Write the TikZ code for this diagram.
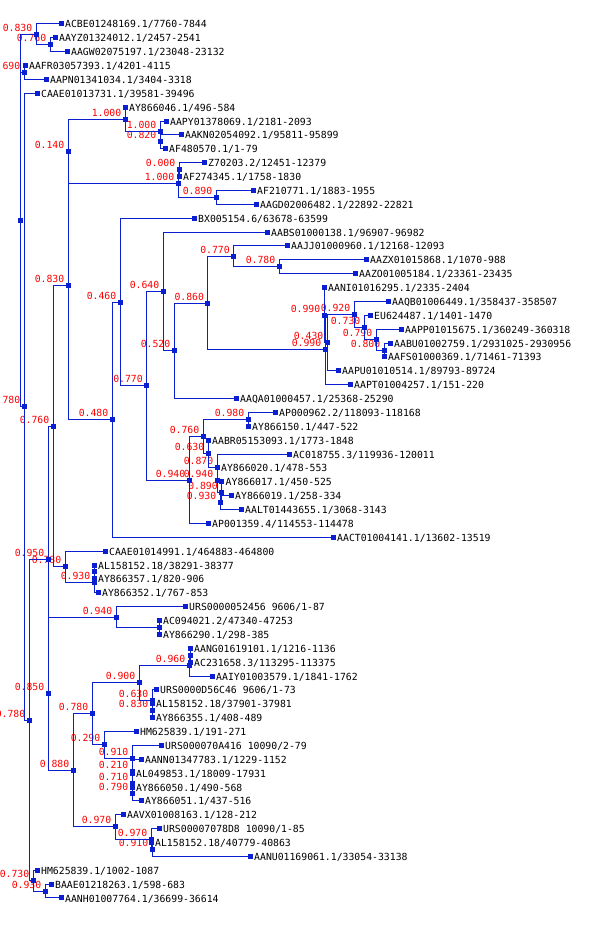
\documentclass[tikz,border=0pt]{standalone}
\usepackage{fontspec}
\newfontfamily\treefont{DejaVu Sans Mono}
\definecolor{treeblue}{RGB}{10,30,210}
\definecolor{labred}{RGB}{255,0,0}
\tikzset{
 sq/.style={rectangle,fill=treeblue,draw=none,minimum size=5pt,inner sep=0pt,outer sep=0pt},
 edge/.style={draw=treeblue,line width=1pt},
 leaftxt/.style={anchor=base west,inner sep=0pt,font={\treefont\fontsize{9.8pt}{10pt}\selectfont},text=black},
 lab/.style={anchor=base east,inner sep=0pt,font={\treefont\fontsize{9.8pt}{10pt}\selectfont},text=labred}
}
\newcommand\leafnode[4]{\coordinate (#1) at (#2,#3);\node[leaftxt] (#1t) at ([xshift=4pt,yshift=-4pt]#1) {#4};}
\newcommand\blab[2]{\node[lab] (#1lab) at ([xshift=-3.5pt,yshift=3pt]#1) {#2};}
\begin{document}
\begin{tikzpicture}[x=1pt,y=-13.873pt]
\useasboundingbox (0,-0.73) rectangle (600,66.74);
% internal nodes
\coordinate (A) at (20.7,15.17);
\coordinate (N1) at (36,1.75);
\coordinate (N2) at (50,2.5);
\coordinate (N690) at (24,4.5);
\coordinate (B) at (24,28.6);
\coordinate (C) at (29,51.19);
\coordinate (D) at (48,39.63);
\coordinate (E) at (33,62.75);
\coordinate (E2) at (45,63.5);
\coordinate (F) at (53,29.99);
\coordinate (G) at (68,19.85);
\coordinate (P140) at (68,10.19);
\coordinate (L) at (125,7.875);
\coordinate (L2) at (160,8.75);
\coordinate (L3) at (160,9.5);
\coordinate (M) at (178,12.5);
\coordinate (M1) at (179,11.5);
\coordinate (M2) at (216,13.5);
\coordinate (Q480) at (112,29.52);
\coordinate (R460) at (120,21.04);
\coordinate (S770) at (146.5,27.07);
\coordinate (T640) at (163,20.28);
\coordinate (V520) at (174,24.56);
\coordinate (W860) at (207.7,21.12);
\coordinate (X770) at (233.5,17.75);
\coordinate (X780) at (279,18.5);
\coordinate (Y) at (325,24.49);
\coordinate (Z5) at (324,21.98);
\coordinate (Z6) at (327,23.97);
\coordinate (Z4) at (354,21.94);
\coordinate (Z3) at (364,22.875);
\coordinate (Z2) at (376,23.75);
\coordinate (Z1) at (384,24.5);
\coordinate (U940) at (189,33.87);
\coordinate (U2) at (203,30.73);
\coordinate (U1) at (248,29.5);
\coordinate (U3) at (208,31.97);
\coordinate (U5) at (217,32.94);
\coordinate (U6) at (217,33.875);
\coordinate (U7) at (221.5,34.75);
\coordinate (U8) at (220,35.5);
\coordinate (H) at (65,40.125);
\coordinate (H2) at (94,41.25);
\coordinate (H3) at (94,40.5);
\coordinate (I) at (48,49.28);
\coordinate (J) at (116,43.75);
\coordinate (J2) at (159,44.5);
\coordinate (K) at (73,54.8);
\coordinate (K1) at (92,50.73);
\coordinate (K11) at (139,48.5);
\coordinate (Kx) at (189,47.25);
\coordinate (Kx1) at (190,46.5);
\coordinate (Ky) at (152,49.75);
\coordinate (Kz) at (152,50.5);
\coordinate (K12) at (104,52.97);
\coordinate (K13) at (132,53.94);
\coordinate (K14) at (132,54.875);
\coordinate (K15) at (132,55.75);
\coordinate (K16) at (132,56.5);
\coordinate (K2) at (115,58.875);
\coordinate (K21) at (151,59.75);
\coordinate (K22) at (152,60.5);
% leaves
\leafnode{l1}{61}{1}{ACBE01248169.1/7760-7844}
\leafnode{l2}{55}{2}{AAYZ01324012.1/2457-2541}
\leafnode{l3}{67}{3}{AAGW02075197.1/23048-23132}
\leafnode{l4}{25}{4}{AAFR03057393.1/4201-4115}
\leafnode{l5}{46}{5}{AAPN01341034.1/3404-3318}
\leafnode{l6}{37}{6}{CAAE01013731.1/39581-39496}
\leafnode{l7}{125}{7}{AY866046.1/496-584}
\leafnode{l8}{166}{8}{AAPY01378069.1/2181-2093}
\leafnode{l9}{181}{9}{AAKN02054092.1/95811-95899}
\leafnode{l10}{165}{10}{AF480570.1/1-79}
\leafnode{l11}{204}{11}{Z70203.2/12451-12379}
\leafnode{l12}{179}{12}{AF274345.1/1758-1830}
\leafnode{l13}{253}{13}{AF210771.1/1883-1955}
\leafnode{l14}{256}{14}{AAGD02006482.1/22892-22821}
\leafnode{l15}{194}{15}{BX005154.6/63678-63599}
\leafnode{l16}{267}{16}{AABS01000138.1/96907-96982}
\leafnode{l17}{287}{17}{AAJJ01000960.1/12168-12093}
\leafnode{l18}{366}{18}{AAZX01015868.1/1070-988}
\leafnode{l19}{355}{19}{AAZO01005184.1/23361-23435}
\leafnode{l20}{324}{20}{AANI01016295.1/2335-2404}
\leafnode{l21}{388}{21}{AAQB01006449.1/358437-358507}
\leafnode{l22}{370}{22}{EU624487.1/1401-1470}
\leafnode{l23}{401}{23}{AAPP01015675.1/360249-360318}
\leafnode{l24}{390}{24}{AABU01002759.1/2931025-2930956}
\leafnode{l25}{384}{25}{AAFS01000369.1/71461-71393}
\leafnode{l26}{338}{26}{AAPU01010514.1/89793-89724}
\leafnode{l27}{350}{27}{AAPT01004257.1/151-220}
\leafnode{l28}{236}{28}{AAQA01000457.1/25368-25290}
\leafnode{l29}{275}{29}{AP000962.2/118093-118168}
\leafnode{l30}{248}{30}{AY866150.1/447-522}
\leafnode{l31}{208}{31}{AABR05153093.1/1773-1848}
\leafnode{l32}{289}{32}{AC018755.3/119936-120011}
\leafnode{l33}{217}{33}{AY866020.1/478-553}
\leafnode{l34}{221.5}{34}{AY866017.1/450-525}
\leafnode{l35}{231}{35}{AY866019.1/258-334}
\leafnode{l36}{241}{36}{AALT01443655.1/3068-3143}
\leafnode{l37}{208}{37}{AP001359.4/114553-114478}
\leafnode{l38}{333}{38}{AACT01004141.1/13602-13519}
\leafnode{l39}{105}{39}{CAAE01014991.1/464883-464800}
\leafnode{l40}{94}{40}{AL158152.18/38291-38377}
\leafnode{l41}{94}{41}{AY866357.1/820-906}
\leafnode{l42}{98}{42}{AY866352.1/767-853}
\leafnode{l43}{185}{43}{URS0000052456 9606/1-87}
\leafnode{l44}{159}{44}{AC094021.2/47340-47253}
\leafnode{l45}{159}{45}{AY866290.1/298-385}
\leafnode{l46}{190}{46}{AANG01619101.1/1216-1136}
\leafnode{l47}{190}{47}{AC231658.3/113295-113375}
\leafnode{l48}{212}{48}{AAIY01003579.1/1841-1762}
\leafnode{l49}{156}{49}{URS0000D56C46 9606/1-73}
\leafnode{l50}{152}{50}{AL158152.18/37901-37981}
\leafnode{l51}{152}{51}{AY866355.1/408-489}
\leafnode{l52}{136}{52}{HM625839.1/191-271}
\leafnode{l53}{161}{53}{URS000070A416 10090/2-79}
\leafnode{l54}{141}{54}{AANN01347783.1/1229-1152}
\leafnode{l55}{132}{55}{AL049853.1/18009-17931}
\leafnode{l56}{132}{56}{AY866050.1/490-568}
\leafnode{l57}{141}{57}{AY866051.1/437-516}
\leafnode{l58}{123}{58}{AAVX01008163.1/128-212}
\leafnode{l59}{159}{59}{URS00007078D8 10090/1-85}
\leafnode{l60}{151}{60}{AL158152.18/40779-40863}
\leafnode{l61}{250}{61}{AANU01169061.1/33054-33138}
\leafnode{l62}{37}{62}{HM625839.1/1002-1087}
\leafnode{l63}{51}{63}{BAAE01218263.1/598-683}
\leafnode{l64}{61}{64}{AANH01007764.1/36699-36614}
% support labels
\blab{N1}{0.830}\blab{N2}{0.760}\blab{N690}{0.690}\blab{B}{0.780}
\blab{C}{0.780}\blab{D}{0.950}\blab{F}{0.760}\blab{G}{0.830}
\blab{P140}{0.140}\blab{L}{1.000}\blab{L2}{1.000}\blab{L3}{0.820}
\blab{M}{1.000}\blab{M1}{0.000}\blab{M2}{0.890}\blab{Q480}{0.480}
\blab{R460}{0.460}\blab{S770}{0.770}\blab{T640}{0.640}\blab{V520}{0.520}
\blab{W860}{0.860}\blab{X770}{0.770}\blab{X780}{0.780}\blab{Y}{0.990}
\blab{Z5}{0.990}\blab{Z4}{0.920}\blab{Z3}{0.730}\blab{Z2}{0.790}
\blab{Z1}{0.800}\blab{Z6}{0.430}\blab{U1}{0.980}\blab{U2}{0.760}
\blab{U3}{0.630}\blab{U5}{0.870}\blab{U940}{0.940}\blab{U6}{0.940}
\blab{U7}{0.890}\blab{U8}{0.930}\blab{H}{0.780}\blab{H2}{0.930}
\blab{J}{0.940}\blab{I}{0.850}\blab{K}{0.880}\blab{K1}{0.780}
\blab{K11}{0.900}\blab{Kx}{0.960}\blab{Ky}{0.630}\blab{Kz}{0.830}
\blab{K12}{0.290}\blab{K13}{0.910}\blab{K14}{0.210}\blab{K15}{0.710}
\blab{K16}{0.790}\blab{K2}{0.970}\blab{K21}{0.970}\blab{K22}{0.910}
\blab{E}{0.730}\blab{E2}{0.930}
% branches
\foreach \p/\c in {A/N1,A/N690,A/B,N1/l1,N1/N2,N2/l2,N2/l3,N690/l4,N690/l5,
 B/l6,B/C,C/D,C/E,D/F,D/I,F/G,F/H,G/P140,G/Q480,P140/L,P140/M,
 L/l7,L/L2,L2/l8,L2/L3,L3/l9,L3/l10,M/M1,M/M2,M1/l11,M1/l12,M2/l13,M2/l14,
 Q480/R460,Q480/l38,R460/l15,R460/S770,S770/T640,S770/U940,T640/l16,T640/V520,
 V520/W860,V520/l28,W860/X770,W860/Y,X770/l17,X770/X780,X780/l18,X780/l19,
 Y/Z5,Y/l27,Z5/l20,Z5/Z6,Z6/Z4,Z6/l26,Z4/l21,Z4/Z3,Z3/l22,Z3/Z2,Z2/l23,Z2/Z1,
 Z1/l24,Z1/l25,U940/U2,U940/l37,U2/U1,U2/U3,U1/l29,U1/l30,U3/l31,U3/U5,
 U5/l32,U5/U6,U6/l33,U6/U7,U7/l34,U7/U8,U8/l35,U8/l36,
 H/l39,H/H2,H2/H3,H2/l42,H3/l40,H3/l41,I/J,I/K,J/l43,J/J2,J2/l44,J2/l45,
 K/K1,K/K2,K1/K11,K1/K12,K11/Kx,K11/Ky,Kx/Kx1,Kx/l48,Kx1/l46,Kx1/l47,
 Ky/l49,Ky/Kz,Kz/l50,Kz/l51,K12/l52,K12/K13,K13/l53,K13/K14,K14/l54,K14/K15,
 K15/l55,K15/K16,K16/l56,K16/l57,K2/l58,K2/K21,K21/l59,K21/K22,K22/l60,K22/l61,
 E/l62,E/E2,E2/l63,E2/l64}
 \draw[edge] (\p) |- (\c);
% node markers
\foreach \n in {A,N1,N2,N690,B,C,D,E,E2,F,G,P140,L,L2,L3,M,M1,M2,Q480,R460,S770,
 T640,V520,W860,X770,X780,Y,Z5,Z6,Z4,Z3,Z2,Z1,U940,U2,U1,U3,U5,U6,U7,U8,
 H,H2,H3,I,J,J2,K,K1,K11,Kx,Kx1,Ky,Kz,K12,K13,K14,K15,K16,K2,K21,K22,
 l1,l2,l3,l4,l5,l6,l7,l8,l9,l10,l11,l12,l13,l14,l15,l16,l17,l18,l19,l20,
 l21,l22,l23,l24,l25,l26,l27,l28,l29,l30,l31,l32,l33,l34,l35,l36,l37,l38,l39,l40,
 l41,l42,l43,l44,l45,l46,l47,l48,l49,l50,l51,l52,l53,l54,l55,l56,l57,l58,l59,l60,
 l61,l62,l63,l64}
 \node[sq] (\n-sq) at (\n) {};
\end{tikzpicture}
\end{document}
